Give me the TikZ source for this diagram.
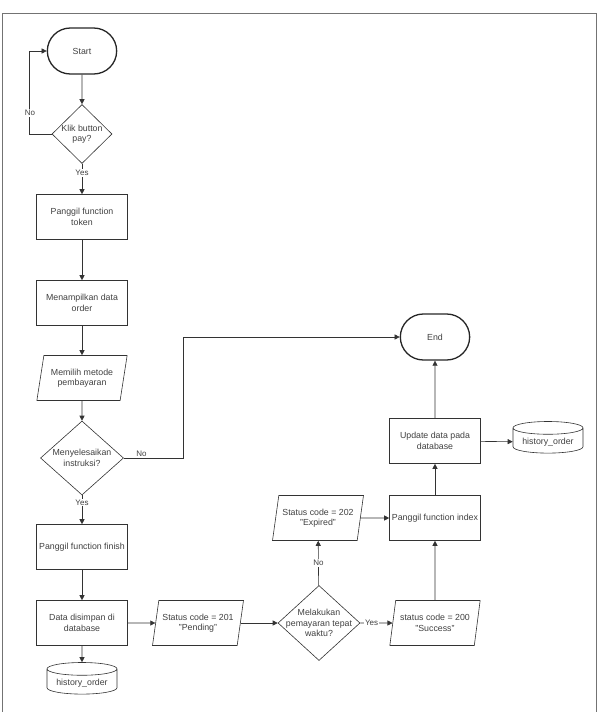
\documentclass[tikz,border=0pt]{standalone}
\usepackage{fontspec}
\setmainfont{Liberation Sans}
\usetikzlibrary{arrows.meta,shapes.geometric,shapes.misc}

\begin{document}
\begin{tikzpicture}
      [x = 1pt, y = -1pt,
      every node/.style = {font = \fontsize{8.8}{10.5}\selectfont, text = black!75},
      line/.style = {draw = black!80, line width = 0.6pt},
      arr/.style = {line, -{Triangle[length = 5pt, width = 5pt]}},
      term/.style = {
         rounded rectangle,
         draw = black!85,
         line width = 1.3pt,
         minimum width = 76pt,
         minimum height = 46pt
      },
      proc/.style = {
         rectangle,
         line,
         align = center,
         minimum width = 91pt,
         minimum height = 45pt,
         inner sep = 0pt
      },
      io/.style = {
         trapezium,
         trapezium left angle = 73,
         trapezium right angle = 107,
         trapezium stretches = true,
         line,
         align = center,
         minimum width = 91pt,
         minimum height = 45pt,
         inner sep = 0pt
      },
      decision/.style = {
         diamond,
         line,
         inner sep = 0pt
      },
      store/.style = {
         cylinder,
         shape border rotate = 90,
         aspect = 0.22,
         line,
         minimum width = 70pt,
         minimum height = 30pt
      },
      tag/.style = {fill = white, inner sep = 1pt, font = \fontsize{8}{9}\selectfont}]

      \useasboundingbox (0, 0) rectangle (598, 712);
      % frame
      \draw[black!55, line width = 1.3pt] (2.5, 712) -- (2.5, 13.5) -- (596.5, 13.5) -- (596.5, 712);

      % left column
      \node[term] (start) at (82, 51) {Start};
      \node[decision, minimum width = 60pt, minimum height = 59pt,
         label = {[align = center]center:Klik button\\pay?}] (klik) at (82, 134) {};
      \node[proc] (token) at (82, 217) {Panggil function\\token};
      \node[proc] (tampil) at (82, 303) {Menampilkan data\\order};
      \node[io] (metode) at (82, 378) {Memilih metode\\pembayaran};
      \node[decision, minimum width = 83pt, minimum height = 74pt,
         label = {[align = center]center:Menyelesaikan\\instruksi?}] (selesai) at (82, 458) {};
      \node[proc] (finish) at (82, 547) {Panggil function finish};
      \node[proc] (simpan) at (82, 623) {Data disimpan di\\database};
      \node[store] (hist1) at (82, 683) {history\_order};

      % bottom row
      \node[io] (pending) at (198, 623) {Status code = 201\\"Pending"};
      \node[decision, minimum width = 82pt, minimum height = 75pt,
         label = {[align = center]center:Melakukan\\pemayaran tepat\\waktu?}] (tepat) at (319, 623) {};
      \node[io] (success) at (435, 623) {status code = 200\\"Success"};
      \node[io] (expired) at (318, 518) {Status code = 202\\"Expired"};

      % right column
      \node[proc] (index) at (435, 518) {Panggil function index};
      \node[proc] (update) at (435, 441) {Update data pada\\database};
      \node[store] (hist2) at (548, 442) {history\_order};
      \node[term] (end) at (435, 337) {End};

      \coordinate (loop) at (29, 51);
      \coordinate (bend) at (183, 458);

      % connectors
      \draw[arr] (start) -- (klik);
      \draw[arr] (klik) -- node[tag, pos = 0.3] {Yes} (token);
      \draw[arr] (klik.west) -| (loop) -- (start.west);
      \node[tag] at (30, 113) {No};
      \draw[arr] (token) -- (tampil);
      \draw[arr] (tampil) -- (metode);
      \draw[arr] (metode) -- (selesai);
      \draw[arr] (selesai) -- node[tag, pos = 0.25] {Yes} (finish);
      \draw[arr] (selesai.east) -- node[above, tag, fill = none, pos = 0.3] {No} (bend) |- (end.west);
      \draw[arr] (finish) -- (simpan);
      \draw[arr] (simpan) -- (hist1);
      \draw[arr] (simpan) -- (pending);
      \draw[arr] (pending) -- (tepat);
      \draw[arr] (tepat) -- node[tag, pos = 0.35] {Yes} (success);
      \draw[arr] (tepat) -- node[tag, pos = 0.5] {No} (expired);
      \draw[arr] (expired) -- (index);
      \draw[arr] (success) -- (index);
      \draw[arr] (index) -- (update);
      \draw[arr] (update) -- (hist2);
      \draw[arr] (update) -- (end);

   \end{tikzpicture}
\end{document}
